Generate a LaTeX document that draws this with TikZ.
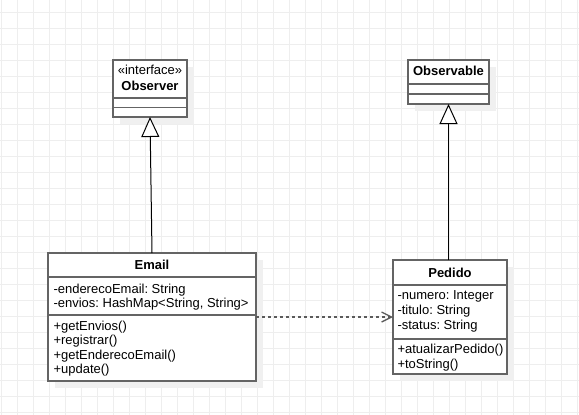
\documentclass[tikz,border=0pt]{standalone}
\usepackage{fontspec}
\setmainfont{Liberation Sans}
\usetikzlibrary{arrows.meta}
\definecolor{gridline}{RGB}{238,238,238}
\definecolor{boxline}{RGB}{100,100,100}
\definecolor{shadowfill}{RGB}{240,240,240}
\definecolor{depline}{RGB}{90,90,90}
\frenchspacing
\begin{document}
\begin{tikzpicture}[x=1pt,y=-1pt,
  every node/.style={font=\fontsize{13}{15}\selectfont, inner sep=0pt, outer sep=0pt},
  classbox/.style={draw=boxline, line width=1.3pt, fill=white},
  sepline/.style={draw=boxline, line width=1.3pt},
  shadowbox/.style={fill=shadowfill},
  member/.style={anchor=base west},
  title/.style={anchor=base, font=\fontsize{13}{15}\selectfont\bfseries},
  stereo/.style={anchor=base},
  inherits/.style={draw=black, line width=1pt, -{Triangle[length=20pt, width=18pt, fill=white]}},
  depends/.style={draw=depline, line width=1.3pt, dash pattern=on 3pt off 3pt, -{Straight Barb[length=10pt, width=10pt]}}
]
\useasboundingbox (0,0) rectangle (579,415);

% background grid
\foreach \gx in {1,17,...,577} \draw[gridline, line width=1pt] (\gx,0) -- (\gx,415);
\foreach \gy in {12,28,...,412} \draw[gridline, line width=1pt] (0,\gy) -- (579,\gy);

% shadows
\fill[shadowbox] (120,67) rectangle (194,124);
\fill[shadowbox] (415,67) rectangle (496,111);
\fill[shadowbox] (55,260) rectangle (263,388);
\fill[shadowbox] (400,267) rectangle (514,381);

% interface Observer
\node[classbox, minimum width=74pt, minimum height=57pt] (observer) at (150,88.5) {};
\draw[sepline] (113,98) -- (187,98);
\draw[sepline] (113,107.5) -- (187,107.5);
\node[stereo] (observerStereo) at (150,74) {«interface»};
\node[title] (observerName) at (150,90) {Observer};

% class Observable
\node[classbox, minimum width=81pt, minimum height=44pt] (observable) at (448.5,82) {};
\draw[sepline] (408,84) -- (489,84);
\draw[sepline] (408,94) -- (489,94);
\node[title] (observableName) at (448.5,75.5) {Observable};

% class Email
\node[classbox, minimum width=208pt, minimum height=128pt] (email) at (152,317) {};
\draw[sepline] (48,277) -- (256,277);
\draw[sepline] (48,315) -- (256,315);
\node[title] (emailName) at (152,269) {Email};
\node[member] (emailA1) at (53.5,293) {-enderecoEmail: String};
\node[member] (emailA2) at (53.5,307.5) {-envios: HashMap<String, String>};
\node[member] (emailM1) at (53.5,330) {+getEnvios()};
\node[member] (emailM2) at (53.5,344.6) {+registrar()};
\node[member] (emailM3) at (53.5,359.2) {+getEnderecoEmail()};
\node[member] (emailM4) at (53.5,373.8) {+update()};

% class Pedido
\node[classbox, minimum width=114pt, minimum height=114pt] (pedido) at (450,317) {};
\draw[sepline] (393,285) -- (507,285);
\draw[sepline] (393,339) -- (507,339);
\node[title] (pedidoName) at (450,277.5) {Pedido};
\node[member] (pedidoA1) at (397.5,299.5) {-numero: Integer};
\node[member] (pedidoA2) at (397.5,314.5) {-titulo: String};
\node[member] (pedidoA3) at (397.5,329.5) {-status: String};
\node[member] (pedidoM1) at (397.5,353) {+atualizarPedido()};
\node[member] (pedidoM2) at (397.5,368) {+toString()};

% relations
\draw[inherits] (email.north) -- (observer.south);
\draw[inherits] (pedido.north -| observable.south) -- (observable.south);
\draw[depends] (email.east) -- (pedido.west);
\end{tikzpicture}
\end{document}
